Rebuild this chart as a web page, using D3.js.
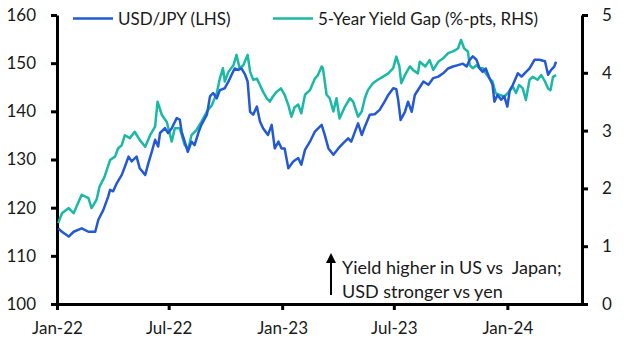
<!DOCTYPE html>
<html>
<head>
<meta charset="utf-8">
<script src="https://cdn.jsdelivr.net/npm/d3@7"></script>
<style>
  body { margin: 0; background: #fff; }
  text { font-family: Lato, sans-serif; fill: #1a1a1a; }
</style>
</head>
<body>
<div id="chart"></div>
<script>
// Series (roughly weekly).
const usdJpy = [
    ["2022-01-03", 115.7], ["2022-01-09", 115.0], ["2022-01-20", 114.0], ["2022-01-28", 115.0],
    ["2022-02-10", 115.7], ["2022-02-21", 115.0], ["2022-03-04", 115.0], ["2022-03-09", 117.5],
    ["2022-03-17", 119.5], ["2022-03-25", 122.3], ["2022-03-28", 123.7], ["2022-04-02", 123.4],
    ["2022-04-08", 125.1], ["2022-04-16", 126.8], ["2022-04-21", 128.5], ["2022-04-27", 130.6],
    ["2022-05-02", 129.6], ["2022-05-10", 130.6], ["2022-05-15", 128.2], ["2022-05-24", 126.8],
    ["2022-05-29", 129.2], ["2022-06-03", 131.3], ["2022-06-09", 134.1], ["2022-06-14", 132.7],
    ["2022-06-17", 135.5], ["2022-06-25", 136.5], ["2022-06-30", 135.5], ["2022-07-06", 136.5],
    ["2022-07-14", 138.6], ["2022-07-19", 138.3], ["2022-07-22", 135.8], ["2022-07-27", 133.7],
    ["2022-08-01", 131.6], ["2022-08-07", 133.7], ["2022-08-12", 133.0], ["2022-08-18", 135.5],
    ["2022-08-23", 137.2], ["2022-09-01", 139.3], ["2022-09-06", 143.1], ["2022-09-11", 143.8],
    ["2022-09-17", 142.7], ["2022-09-22", 144.4], ["2022-09-30", 144.8], ["2022-10-06", 146.2],
    ["2022-10-11", 147.6], ["2022-10-16", 148.9], ["2022-10-22", 148.6], ["2022-10-27", 148.9],
    ["2022-11-02", 147.6], ["2022-11-06", 146.2], ["2022-11-10", 139.9], ["2022-11-15", 139.3],
    ["2022-11-21", 141.0], ["2022-11-26", 137.9], ["2022-12-01", 136.5], ["2022-12-09", 135.1],
    ["2022-12-15", 137.2], ["2022-12-20", 132.3], ["2022-12-26", 133.7], ["2022-12-31", 132.3],
    ["2023-01-05", 132.3], ["2023-01-11", 128.2], ["2023-01-19", 129.6], ["2023-01-27", 130.3],
    ["2023-02-01", 128.9], ["2023-02-07", 132.0], ["2023-02-15", 133.7], ["2023-02-23", 135.8],
    ["2023-03-06", 137.2], ["2023-03-11", 135.1], ["2023-03-17", 132.3], ["2023-03-25", 131.0],
    ["2023-04-02", 132.3], ["2023-04-10", 133.4], ["2023-04-18", 134.4], ["2023-04-23", 133.7],
    ["2023-04-29", 135.8], ["2023-05-04", 137.5], ["2023-05-10", 135.1], ["2023-05-15", 136.8],
    ["2023-05-23", 139.3], ["2023-05-31", 139.4], ["2023-06-08", 140.3], ["2023-06-16", 142.0],
    ["2023-06-22", 143.4], ["2023-06-30", 144.8], ["2023-07-05", 144.6], ["2023-07-08", 142.4],
    ["2023-07-12", 138.2], ["2023-07-19", 139.9], ["2023-07-24", 142.0], ["2023-07-30", 139.9],
    ["2023-08-04", 143.4], ["2023-08-12", 145.0], ["2023-08-18", 146.2], ["2023-08-26", 145.5],
    ["2023-09-03", 146.9], ["2023-09-11", 147.2], ["2023-09-19", 147.9], ["2023-09-27", 148.9],
    ["2023-10-05", 149.3], ["2023-10-13", 149.6], ["2023-10-21", 149.9], ["2023-10-27", 149.3],
    ["2023-11-01", 150.7], ["2023-11-06", 151.4], ["2023-11-12", 150.7], ["2023-11-17", 148.9],
    ["2023-11-22", 148.2], ["2023-11-27", 148.9], ["2023-12-03", 146.9], ["2023-12-08", 145.5],
    ["2023-12-11", 142.0], ["2023-12-16", 143.4], ["2023-12-22", 142.4], ["2023-12-27", 143.1],
    ["2024-01-01", 141.0], ["2024-01-05", 144.4], ["2024-01-10", 145.5], ["2024-01-18", 147.9],
    ["2024-01-24", 147.2], ["2024-01-29", 147.9], ["2024-02-06", 148.9], ["2024-02-14", 150.7],
    ["2024-02-22", 150.7], ["2024-03-02", 150.4], ["2024-03-07", 147.6], ["2024-03-12", 148.6],
    ["2024-03-17", 149.3], ["2024-03-20", 150.3]
];

const yieldGap = [
    ["2022-01-03", 1.40], ["2022-01-09", 1.57], ["2022-01-20", 1.66], ["2022-01-28", 1.57],
    ["2022-02-10", 1.89], ["2022-02-21", 1.83], ["2022-02-26", 1.66], ["2022-03-06", 1.80],
    ["2022-03-11", 2.03], ["2022-03-19", 2.20], ["2022-03-28", 2.49], ["2022-04-05", 2.55],
    ["2022-04-10", 2.69], ["2022-04-16", 2.75], ["2022-04-21", 2.92], ["2022-04-29", 2.87],
    ["2022-05-07", 2.98], ["2022-05-15", 2.84], ["2022-05-24", 2.72], ["2022-06-01", 2.92],
    ["2022-06-09", 3.07], ["2022-06-13", 3.50], ["2022-06-20", 3.27], ["2022-06-28", 3.15],
    ["2022-07-06", 2.81], ["2022-07-11", 3.04], ["2022-07-19", 3.04], ["2022-07-27", 2.75],
    ["2022-08-02", 2.69], ["2022-08-07", 2.92], ["2022-08-15", 3.01], ["2022-08-23", 3.15],
    ["2022-09-01", 3.33], ["2022-09-09", 3.44], ["2022-09-17", 3.65], ["2022-09-22", 3.90],
    ["2022-09-27", 4.08], ["2022-09-30", 3.85], ["2022-10-06", 4.02], ["2022-10-14", 4.13],
    ["2022-10-19", 4.31], ["2022-10-24", 4.08], ["2022-10-30", 4.13], ["2022-11-06", 4.31],
    ["2022-11-10", 4.02], ["2022-11-15", 3.88], ["2022-11-21", 3.90], ["2022-11-26", 3.79],
    ["2022-12-01", 3.67], ["2022-12-07", 3.56], ["2022-12-12", 3.50], ["2022-12-17", 3.59],
    ["2022-12-23", 3.67], ["2022-12-30", 3.73], ["2023-01-05", 3.62], ["2023-01-11", 3.44],
    ["2023-01-16", 3.24], ["2023-01-21", 3.40], ["2023-01-27", 3.45], ["2023-02-01", 3.30],
    ["2023-02-07", 3.62], ["2023-02-15", 3.70], ["2023-02-23", 3.90], ["2023-02-28", 3.96],
    ["2023-03-06", 4.11], ["2023-03-08", 4.08], ["2023-03-14", 3.62], ["2023-03-19", 3.56],
    ["2023-03-25", 3.33], ["2023-03-30", 3.56], ["2023-04-04", 3.21], ["2023-04-13", 3.42],
    ["2023-04-21", 3.56], ["2023-04-26", 3.50], ["2023-05-04", 3.24], ["2023-05-10", 3.33],
    ["2023-05-15", 3.56], ["2023-05-20", 3.70], ["2023-05-28", 3.82], ["2023-06-05", 3.88],
    ["2023-06-13", 3.93], ["2023-06-22", 3.99], ["2023-06-30", 4.08], ["2023-07-05", 4.28],
    ["2023-07-10", 4.11], ["2023-07-13", 3.82], ["2023-07-19", 3.96], ["2023-07-27", 4.11],
    ["2023-08-01", 4.05], ["2023-08-09", 3.99], ["2023-08-12", 4.19], ["2023-08-21", 4.11],
    ["2023-08-28", 4.22], ["2023-09-03", 4.05], ["2023-09-11", 4.19], ["2023-09-19", 4.25],
    ["2023-09-27", 4.34], ["2023-10-05", 4.37], ["2023-10-13", 4.42], ["2023-10-18", 4.57],
    ["2023-10-23", 4.42], ["2023-10-29", 4.37], ["2023-11-01", 4.13], ["2023-11-06", 4.08],
    ["2023-11-12", 4.13], ["2023-11-17", 4.08], ["2023-11-22", 4.08], ["2023-11-27", 3.99],
    ["2023-12-03", 3.90], ["2023-12-08", 3.85], ["2023-12-13", 3.65], ["2023-12-19", 3.62],
    ["2023-12-27", 3.59], ["2024-01-02", 3.65], ["2024-01-10", 3.76], ["2024-01-15", 3.65],
    ["2024-01-20", 3.79], ["2024-01-26", 3.73], ["2024-01-31", 3.53], ["2024-02-06", 3.88],
    ["2024-02-11", 3.93], ["2024-02-19", 3.88], ["2024-02-25", 3.96], ["2024-03-02", 3.85],
    ["2024-03-07", 3.73], ["2024-03-11", 3.70], ["2024-03-15", 3.93], ["2024-03-20", 3.96]
];

const leftTicks = [100, 110, 120, 130, 140, 150, 160];
const rightTicks = [0, 1, 2, 3, 4, 5];
const xTicks = ["2022-01-01", "2022-07-01", "2023-01-01", "2023-07-01", "2024-01-01"];
const seriesNames = ["USD/JPY (LHS)", "5-Year Yield Gap (%-pts, RHS)"];
const noteLines = ["Yield higher in US vs  Japan;", "USD stronger vs yen"];

const BLUE = '#2358d6';
const TEAL = '#19b9a6';
const FONT = '17px';

const width = 627, height = 348;
const margin = {top: 15, right: 45, bottom: 44, left: 57};
const parse = d3.timeParse('%Y-%m-%d');

const svg = d3.select('#chart').append('svg')
    .attr('width', width)
    .attr('height', height);

const x = d3.scaleTime()
    .domain([parse('2022-01-01'), parse('2024-05-01')])
    .range([margin.left, width - margin.right]);
const yL = d3.scaleLinear().domain([100, 160]).range([height - margin.bottom, margin.top]);
const yR = d3.scaleLinear().domain([0, 5]).range([height - margin.bottom, margin.top]);

// Axes.
const xAxis = d3.axisBottom(x)
    .tickValues(xTicks.map(parse))
    .tickFormat(d3.timeFormat('%b-%y'))
    .tickSize(6)
    .tickPadding(12);
const leftAxis = d3.axisLeft(yL).tickValues(leftTicks).tickSize(6).tickPadding(15);
const rightAxis = d3.axisRight(yR).tickValues(rightTicks).tickFormat(d3.format('d'))
    .tickSize(6).tickPadding(14);

const styleAxis = g => {
    g.select('.domain').attr('stroke', '#000').attr('stroke-width', 3);
    g.selectAll('.tick line').attr('stroke', '#000').attr('stroke-width', 3);
    g.selectAll('.tick text').style('font-size', FONT).style('font-family', 'Lato, sans-serif')
        .attr('fill', '#1a1a1a');
};

svg.append('g')
    .attr('transform', `translate(0,${height - margin.bottom})`)
    .call(xAxis.tickSizeOuter(0))
    .call(styleAxis);
svg.append('g')
    .attr('transform', `translate(${margin.left},0)`)
    .call(leftAxis.tickSizeOuter(0))
    .call(styleAxis);
svg.append('g')
    .attr('transform', `translate(${width - margin.right},0)`)
    .call(rightAxis.tickSizeOuter(0))
    .call(styleAxis);

// Lines.
const lineL = d3.line().x(d => x(parse(d[0]))).y(d => yL(d[1]));
const lineR = d3.line().x(d => x(parse(d[0]))).y(d => yR(d[1]));

svg.append('path')
    .datum(yieldGap)
    .attr('fill', 'none')
    .attr('stroke', TEAL)
    .attr('stroke-width', 2.5)
    .attr('stroke-linejoin', 'round')
    .attr('d', lineR);

svg.append('path')
    .datum(usdJpy)
    .attr('fill', 'none')
    .attr('stroke', BLUE)
    .attr('stroke-width', 2.5)
    .attr('stroke-linejoin', 'round')
    .attr('d', lineL);

// Legend.
const legend = [
    {name: seriesNames[0], color: BLUE, x: 73},
    {name: seriesNames[1], color: TEAL, x: 273}
];
legend.forEach(l => {
    svg.append('line')
        .attr('x1', l.x).attr('x2', l.x + 40)
        .attr('y1', 18.5).attr('y2', 18.5)
        .attr('stroke', l.color)
        .attr('stroke-width', 2.5);
    svg.append('text')
        .attr('x', l.x + 45)
        .attr('y', 24.5)
        .style('font-size', FONT)
        .text(l.name);
});

// Annotation: arrow pointing up, then two lines of text.
svg.append('line')
    .attr('x1', 331).attr('x2', 331)
    .attr('y1', 295).attr('y2', 261)
    .attr('stroke', '#000')
    .attr('stroke-width', 2);
svg.append('path')
    .attr('d', 'M326,263 L331,253 L336,263 Z')
    .attr('fill', '#000');

noteLines.forEach((t, i) => {
    svg.append('text')
        .attr('x', 342)
        .attr('y', 274 + i * 24)
        .style('font-size', '18px')
        .style('white-space', 'pre')
        .text(t);
});
</script>
</body>
</html>
